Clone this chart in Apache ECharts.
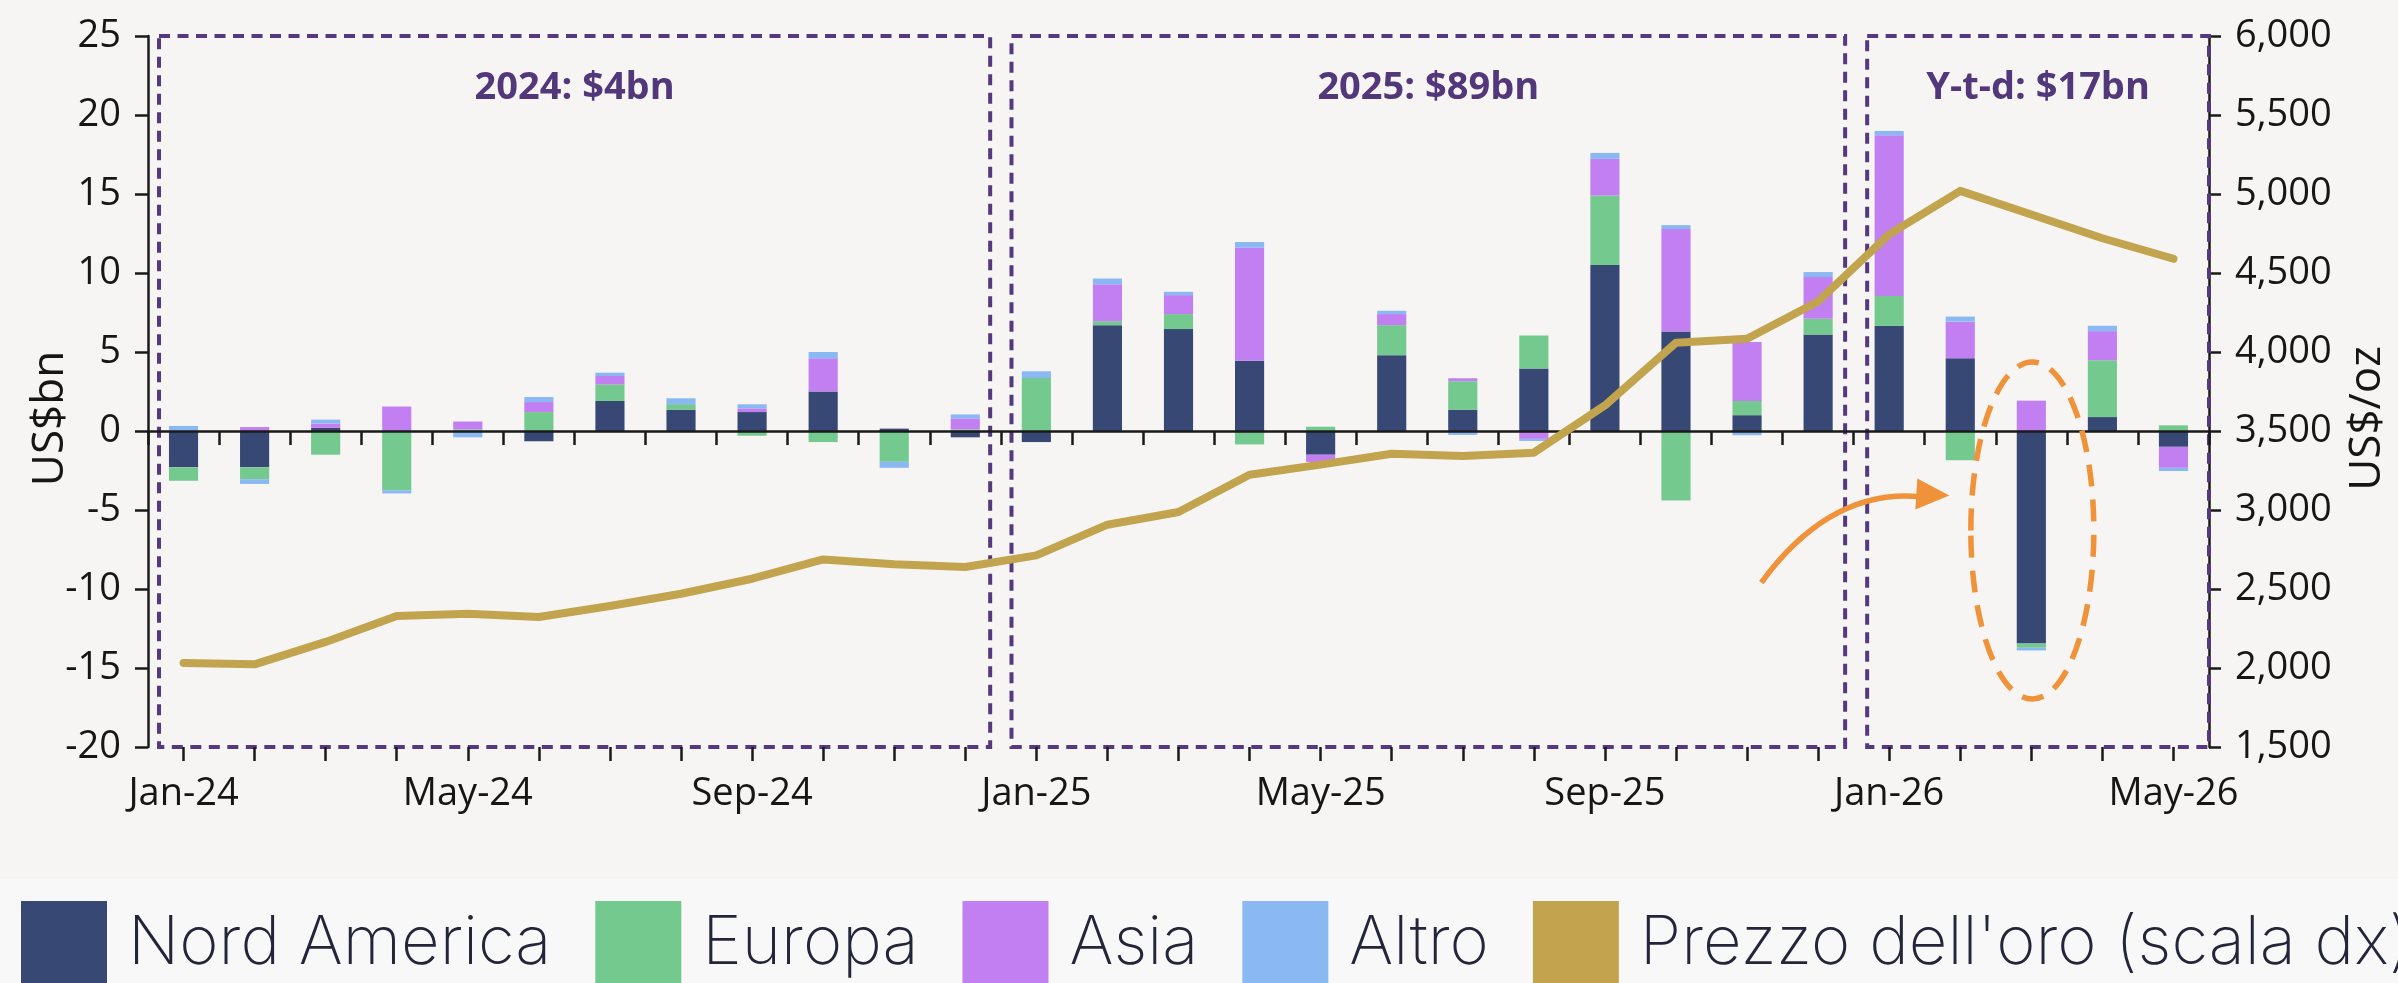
<!DOCTYPE html>
<html><head><meta charset="utf-8">
<script src="https://cdn.jsdelivr.net/npm/echarts@6/dist/echarts.min.js"></script>
<style>html,body{margin:0;padding:0;background:#f6f5f3;overflow:hidden}#c{width:2398px;height:983px}</style>
</head><body><div id="c"></div><script>
// ---- data ----
const months = ['Jan-24','Feb-24','Mar-24','Apr-24','May-24','Jun-24','Jul-24','Aug-24','Sep-24','Oct-24','Nov-24','Dec-24',
  'Jan-25','Feb-25','Mar-25','Apr-25','May-25','Jun-25','Jul-25','Aug-25','Sep-25','Oct-25','Nov-25','Dec-25',
  'Jan-26','Feb-26','Mar-26','Apr-26','May-26'];
const northAmerica = [-2.3,-2.3,0.2,0,0,-0.65,1.9,1.35,1.2,2.5,0.15,-0.4,
  -0.7,6.7,6.45,4.45,-1.5,4.8,1.35,3.95,10.5,6.3,1.0,6.1,
  6.65,4.6,-13.45,0.88,-1.0];
const europe = [-0.85,-0.75,-1.5,-3.75,0.1,1.2,1.05,0.35,-0.3,-0.7,-1.95,0.1,
  3.35,0.25,0.95,-0.85,0.27,1.9,1.8,2.1,4.4,-4.4,0.9,1.0,
  1.9,-1.85,-0.27,3.6,0.36];
const asia = [0,0.25,0.27,1.55,0.5,0.63,0.53,0,0.23,2.1,0,0.7,
  0,2.34,1.2,7.15,-0.46,0.7,0.19,-0.5,2.32,6.48,3.73,2.64,
  10.17,2.32,1.92,1.84,-1.33];
const other = [0.32,-0.3,0.25,-0.2,-0.4,0.32,0.21,0.37,0.26,0.4,-0.38,0.25,
  0.43,0.36,0.21,0.36,0,0.21,-0.25,-0.13,0.38,0.25,-0.27,0.32,
  0.27,0.32,-0.17,0.34,-0.2];
const goldPrice = [2032,2023,2165,2329,2344,2323,2392,2470,2565,2687,2656,2639,
  2713,2907,2987,3223,3287,3356,3342,3363,3662,4059,4084,4320,
  4745,5020,4870,4720,4590];
const seriesNames = ['Nord America','Europa','Asia','Altro',"Prezzo dell'oro (scala dx)"];
const leftAxisName = 'US$bn';
const rightAxisName = 'US$/oz';
const leftTicks = {min:-20, max:25, interval:5};
const rightTicks = {min:1500, max:6000, interval:500};
const periodBoxes = [
  {first:'Jan-24', last:'Dec-24', text:'2024: $4bn'},
  {first:'Jan-25', last:'Dec-25', text:'2025: $89bn'},
  {first:'Jan-26', last:'May-26', text:'Y-t-d: $17bn'}
];
const highlightMonth = 'Mar-26';

// ---- chart ----
const colors = ['#364873','#74C98E','#C17FF1','#8AB8F3','#C2A44E'];
const tickFont = {fontFamily:'Open Sans', fontWeight:500, fontSize:38, color:'#161616'};
const axisLineStyle = {color:'#1a1a1a', width:2.5};
const chart = echarts.init(document.getElementById('c'), null, {renderer:'canvas'});

function barSeries(name, data, color){
  return {name, type:'bar', stack:'flows', data, xAxisIndex:0, yAxisIndex:0,
    barWidth:'41%', itemStyle:{color}, emphasis:{disabled:true}, z:2};
}

const option = {
  animation:false,
  backgroundColor:'#f6f5f3',
  color: colors,
  grid:{left:148, right:189, top:36, bottom:236, containLabel:false},
  legend:{
    data: seriesNames, icon:'rect', left:21, top:901, width:5000, padding:0,
    itemWidth:86, itemHeight:86, itemGap:44,
    textStyle:{fontFamily:'Inter', fontWeight:200, fontSize:67, color:'#24243a', padding:[0,0,0,16]},
    selectedMode:false
  },
  xAxis:[
    {type:'category', data:months, position:'bottom', boundaryGap:true, z:10,
     axisLine:{show:true, onZero:true, lineStyle:axisLineStyle},
     axisTick:{show:true, interval:0, length:14, lineStyle:axisLineStyle},
     axisLabel:{show:false}, splitLine:{show:false}},
    {type:'category', data:months, position:'bottom', boundaryGap:true, z:10,
     axisLine:{show:false, onZero:true},
     axisTick:{show:true, interval:0, alignWithLabel:true, length:14, lineStyle:axisLineStyle},
     axisLabel:{show:false}, splitLine:{show:false}},
    {type:'category', data:months, position:'bottom', boundaryGap:true,
     axisLine:{show:false, onZero:false}, axisTick:{show:false},
     axisLabel:Object.assign({interval:3, margin:28}, tickFont), splitLine:{show:false}}
  ],
  yAxis:[
    {type:'value', position:'left', min:leftTicks.min, max:leftTicks.max, interval:leftTicks.interval,
     axisLine:{show:true, onZero:false, lineStyle:axisLineStyle},
     axisTick:{show:true, length:13, lineStyle:axisLineStyle},
     axisLabel:Object.assign({margin:27}, tickFont), splitLine:{show:false}},
    {type:'value', position:'right', min:rightTicks.min, max:rightTicks.max, interval:rightTicks.interval,
     axisLine:{show:true, onZero:false, lineStyle:axisLineStyle},
     axisTick:{show:true, length:12, lineStyle:axisLineStyle},
     axisLabel:Object.assign({margin:26, formatter:v=>v.toLocaleString('en-US')}, tickFont),
     splitLine:{show:false}}
  ],
  series:[
    barSeries(seriesNames[0], northAmerica, colors[0]),
    barSeries(seriesNames[1], europe, colors[1]),
    barSeries(seriesNames[2], asia, colors[2]),
    barSeries(seriesNames[3], other, colors[3]),
    {name:seriesNames[4], type:'line', data:goldPrice, xAxisIndex:0, yAxisIndex:1,
     symbol:'none', lineStyle:{width:8, color:colors[4], join:'round', cap:'round'},
     itemStyle:{color:colors[4]}, emphasis:{disabled:true}, z:12}
  ]
};
chart.setOption(option);

// ---- annotations anchored to the axes ----
const P = (cat, val, yi) => chart.convertToPixel({xAxisIndex:0, yAxisIndex:yi||0}, [cat, val]);
const catW = P(months[1],0)[0] - P(months[0],0)[0];
const topY = P(months[0], leftTicks.max)[1];
const botY = P(months[0], leftTicks.min)[1];
const leftX = P(months[0],0)[0] - catW/2;
const rightX = P(months[months.length-1],0)[0] + catW/2;
const midY = (topY + botY) / 2;
const insets = [[0.345,0.35],[0.35,0.38],[0.31,0.5]];
const purple = '#55397e';
const graphics = [];
graphics.push({type:'rect', silent:true, z:-10, shape:{x:0, y:879, width:2398, height:120}, style:{fill:'#f8f8f8'}});
periodBoxes.forEach((b,i)=>{
  const x1 = P(b.first,0)[0] - insets[i][0]*catW;
  const x2 = P(b.last,0)[0] + insets[i][1]*catW;
  graphics.push({type:'rect', silent:true, z:8,
    shape:{x:x1, y:topY, width:x2-x1, height:botY-topY},
    style:{fill:'none', stroke:purple, lineWidth:4, lineDash:[11,7.5]}});
  graphics.push({type:'text', silent:true, z:20, x:(x1+x2)/2, y:topY+52,
    style:{text:b.text, fill:'#52387a', font:'bold 38px "Open Sans"', align:'center', verticalAlign:'middle'}});
});
// axis titles
graphics.push({type:'text', silent:true, z:20, x:leftX-98, y:midY+27, rotation:Math.PI/2,
  style:{text:leftAxisName, fill:'#161616', font:'44px "Open Sans"', align:'center', verticalAlign:'middle'}});
graphics.push({type:'text', silent:true, z:20, x:rightX+158, y:midY+27, rotation:Math.PI/2,
  style:{text:rightAxisName, fill:'#161616', font:'44px "Open Sans"', align:'center', verticalAlign:'middle'}});
const hc = P(highlightMonth, -6.3);
const orange = '#EF9239';
graphics.push({type:'ellipse', silent:true, z:20, shape:{cx:hc[0]+1, cy:hc[1], rx:61.5, ry:168.5},
  style:{fill:'none', stroke:orange, lineWidth:5.5, lineDash:[22,13]}});
graphics.push({type:'bezierCurve', silent:true, z:20,
  shape:{x1:hc[0]-270, y1:hc[1]+52, cpx1:hc[0]-202, cpy1:hc[1]-41, x2:hc[0]-113, y2:hc[1]-34},
  style:{fill:'none', stroke:orange, lineWidth:5.5}});
graphics.push({type:'polygon', silent:true, z:20,
  shape:{points:[[hc[0]-114,hc[1]-52],[hc[0]-82,hc[1]-35],[hc[0]-116,hc[1]-21]]},
  style:{fill:orange}});
chart.setOption({graphic:graphics});
</script></body></html>
